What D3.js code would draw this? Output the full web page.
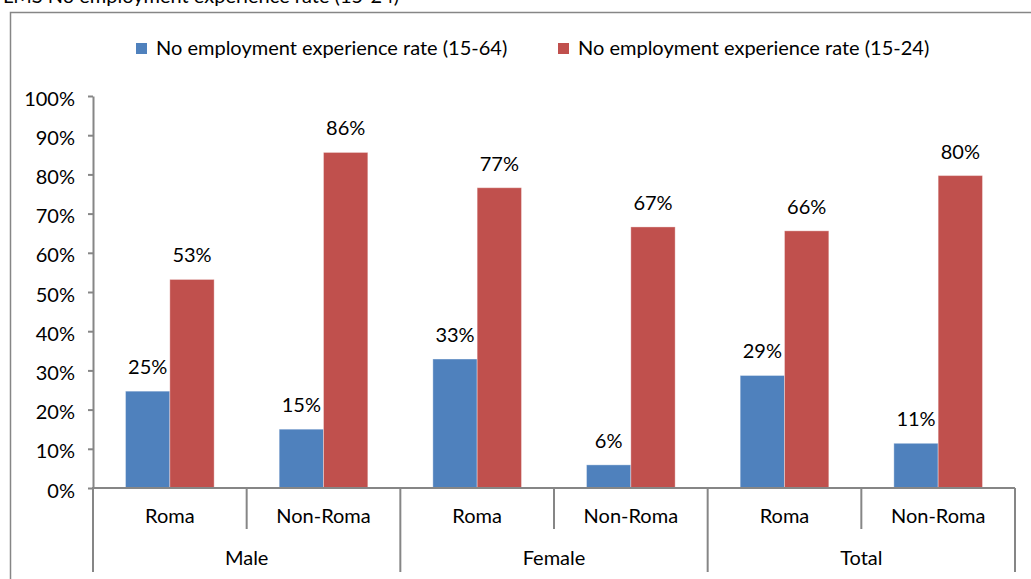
<!DOCTYPE html>
<html>
<head>
<meta charset="utf-8">
<script src="https://cdn.jsdelivr.net/npm/d3@7"></script>
<style>
  html, body { margin: 0; padding: 0; background: #fff; }
  svg { display: block; }
  text { font-family: Lato, "Open Sans", sans-serif; fill: #000; }
</style>
</head>
<body>
<svg id="chart" width="1031" height="579"></svg>
<script>
// Categories and values
const groups = ["Male", "Female", "Total"];
const categories = ["Roma", "Non-Roma", "Roma", "Non-Roma", "Roma", "Non-Roma"];
const seriesNames = ["No employment experience rate (15-64)", "No employment experience rate (15-24)"];
const rate1564 = [24.7, 15.0, 32.9, 5.9, 28.7, 11.4];
const rate1524 = [53.2, 85.6, 76.6, 66.6, 65.6, 79.7];
const yTicks = [0, 10, 20, 30, 40, 50, 60, 70, 80, 90, 100];
const titleText = "LMS No employment experience rate (15-24)";

const colors = ["#4F81BD", "#C0504D"];
const axisColor = "#868686";
const fontSize = 20;
const SX = 1.0; // horizontal text stretch

const svg = d3.select("#chart");
const series = [rate1564, rate1524];

const plot = { left: 93, right: 1015, top: 96, bottom: 488 };

const x = d3.scaleBand().domain(d3.range(categories.length)).range([plot.left, plot.right]).padding(0);
const xs = d3.scaleBand().domain([0, 1]).range([0, x.bandwidth()]).paddingInner(0).paddingOuter(0.734);
const y = d3.scaleLinear().domain([0, 100]).range([plot.bottom, plot.top]);

function label(g, tx, ty, str, anchor) {
  return g.append("text")
    .attr("transform", `translate(${tx},${ty}) scale(${SX},1)`)
    .attr("text-anchor", anchor || "middle")
    .style("font-size", fontSize + "px")
    .text(str);
}

// Title (runs above the frame)
label(svg, 3, 3, titleText, "start");

// Chart frame
svg.append("rect")
  .attr("x", 10.5).attr("y", 12.5)
  .attr("width", 1040).attr("height", 600)
  .attr("fill", "#fff").attr("stroke", axisColor).attr("stroke-width", 1.5);

// Legend
const legendPos = [136, 558];
seriesNames.forEach((name, i) => {
  svg.append("rect")
    .attr("x", legendPos[i]).attr("y", 43)
    .attr("width", 11).attr("height", 11)
    .attr("fill", colors[i]);
  label(svg, legendPos[i] + 20, 55, name, "start");
});

// Bars
const bars = svg.append("g");
series.forEach((vals, s) => {
  bars.selectAll(null).data(vals).join("rect")
    .attr("x", (d, i) => x(i) + xs(s))
    .attr("y", d => y(d))
    .attr("width", xs.bandwidth())
    .attr("height", d => y(0) - y(d))
    .attr("fill", colors[s])
    .attr("stroke", "rgba(255,255,255,0.35)")
    .attr("stroke-width", 1);
});

// Value labels
const fmt = d => Math.round(d) + "%";
series.forEach((vals, s) => {
  vals.forEach((v, i) => {
    label(svg, x(i) + xs(s) + xs.bandwidth() / 2, y(v) - 17, fmt(v));
  });
});

// Y axis
const yAxis = svg.append("g")
  .attr("transform", `translate(${plot.left},0)`)
  .call(d3.axisLeft(y).tickValues(yTicks).tickSize(5).tickSizeOuter(0).tickFormat(d => d + "%"));
yAxis.select(".domain").attr("stroke", axisColor).attr("stroke-width", 2);
yAxis.selectAll(".tick line").attr("stroke", axisColor).attr("stroke-width", 2);
yAxis.selectAll(".tick text")
  .attr("x", null).attr("dy", null)
  .attr("transform", `translate(-18,9) scale(${SX},1)`)
  .attr("font-family", null).attr("font-size", null)
  .style("font-size", fontSize + "px")
  .attr("fill", "#000");

// X axis: baseline, category dividers and labels
const xAxis = svg.append("g");
xAxis.append("line")
  .attr("x1", plot.left - 1).attr("x2", plot.right)
  .attr("y1", plot.bottom).attr("y2", plot.bottom)
  .attr("stroke", axisColor).attr("stroke-width", 2);

const dividers = d3.range(categories.length + 1);
xAxis.selectAll(null).data(dividers).join("line")
  .attr("x1", i => i < categories.length ? x(i) : plot.right)
  .attr("x2", i => i < categories.length ? x(i) : plot.right)
  .attr("y1", plot.bottom)
  .attr("y2", i => i % 2 === 0 ? 572 : 529)
  .attr("stroke", axisColor).attr("stroke-width", 2);

categories.forEach((c, i) => {
  label(xAxis, x(i) + x.bandwidth() / 2, 523, c);
});
groups.forEach((g, j) => {
  label(xAxis, x(j * 2) + x.bandwidth(), 565, g);
});
</script>
</body>
</html>
